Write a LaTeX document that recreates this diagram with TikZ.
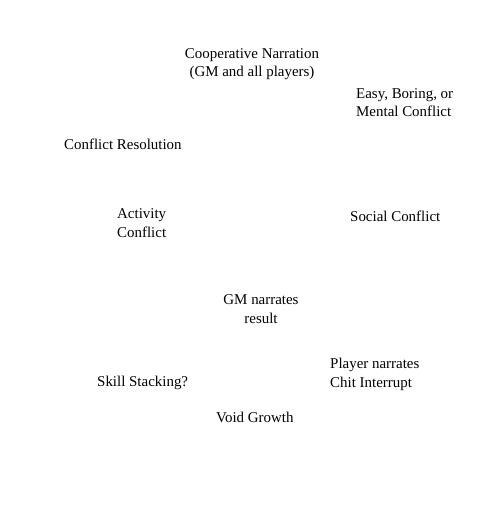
\documentclass[tikz,border=0pt]{standalone}
\usepackage{fontspec}
\setmainfont{Liberation Serif}
\usepackage{tikz}
\usetikzlibrary{positioning}

\tikzset{
    txt/.style={inner sep=0pt, font=\fontsize{15}{18.5}\selectfont},
}

\begin{document}
\begin{tikzpicture}[x=1bp, y=-1bp]
    \useasboundingbox (0,0) rectangle (477,509);
    \node[txt, align=center, anchor=base] (coop) at (252,77) {Cooperative Narration\\(GM and all players)};
    \node[txt, align=left, anchor=base west] (easy) at (356,117) {Easy, Boring, or\\Mental Conflict};
    \node[txt, anchor=base west] (resol) at (64,150) {Conflict Resolution};
    \node[txt, align=left, anchor=base west] (activity) at (117,237) {Activity\\Conflict};
    \node[txt, anchor=base west] (social) at (350,221) {Social Conflict};
    \node[txt, align=center, anchor=base] (gmres) at (261,323) {GM narrates\\result};
    \node[txt, align=left, anchor=base west] (player) at (330,387) {Player narrates\\Chit Interrupt};
    \node[txt, anchor=base west] (skill) at (97,386) {Skill Stacking?};
    \node[txt, anchor=base west] (void) at (216,422) {Void Growth};
\end{tikzpicture}
\end{document}
